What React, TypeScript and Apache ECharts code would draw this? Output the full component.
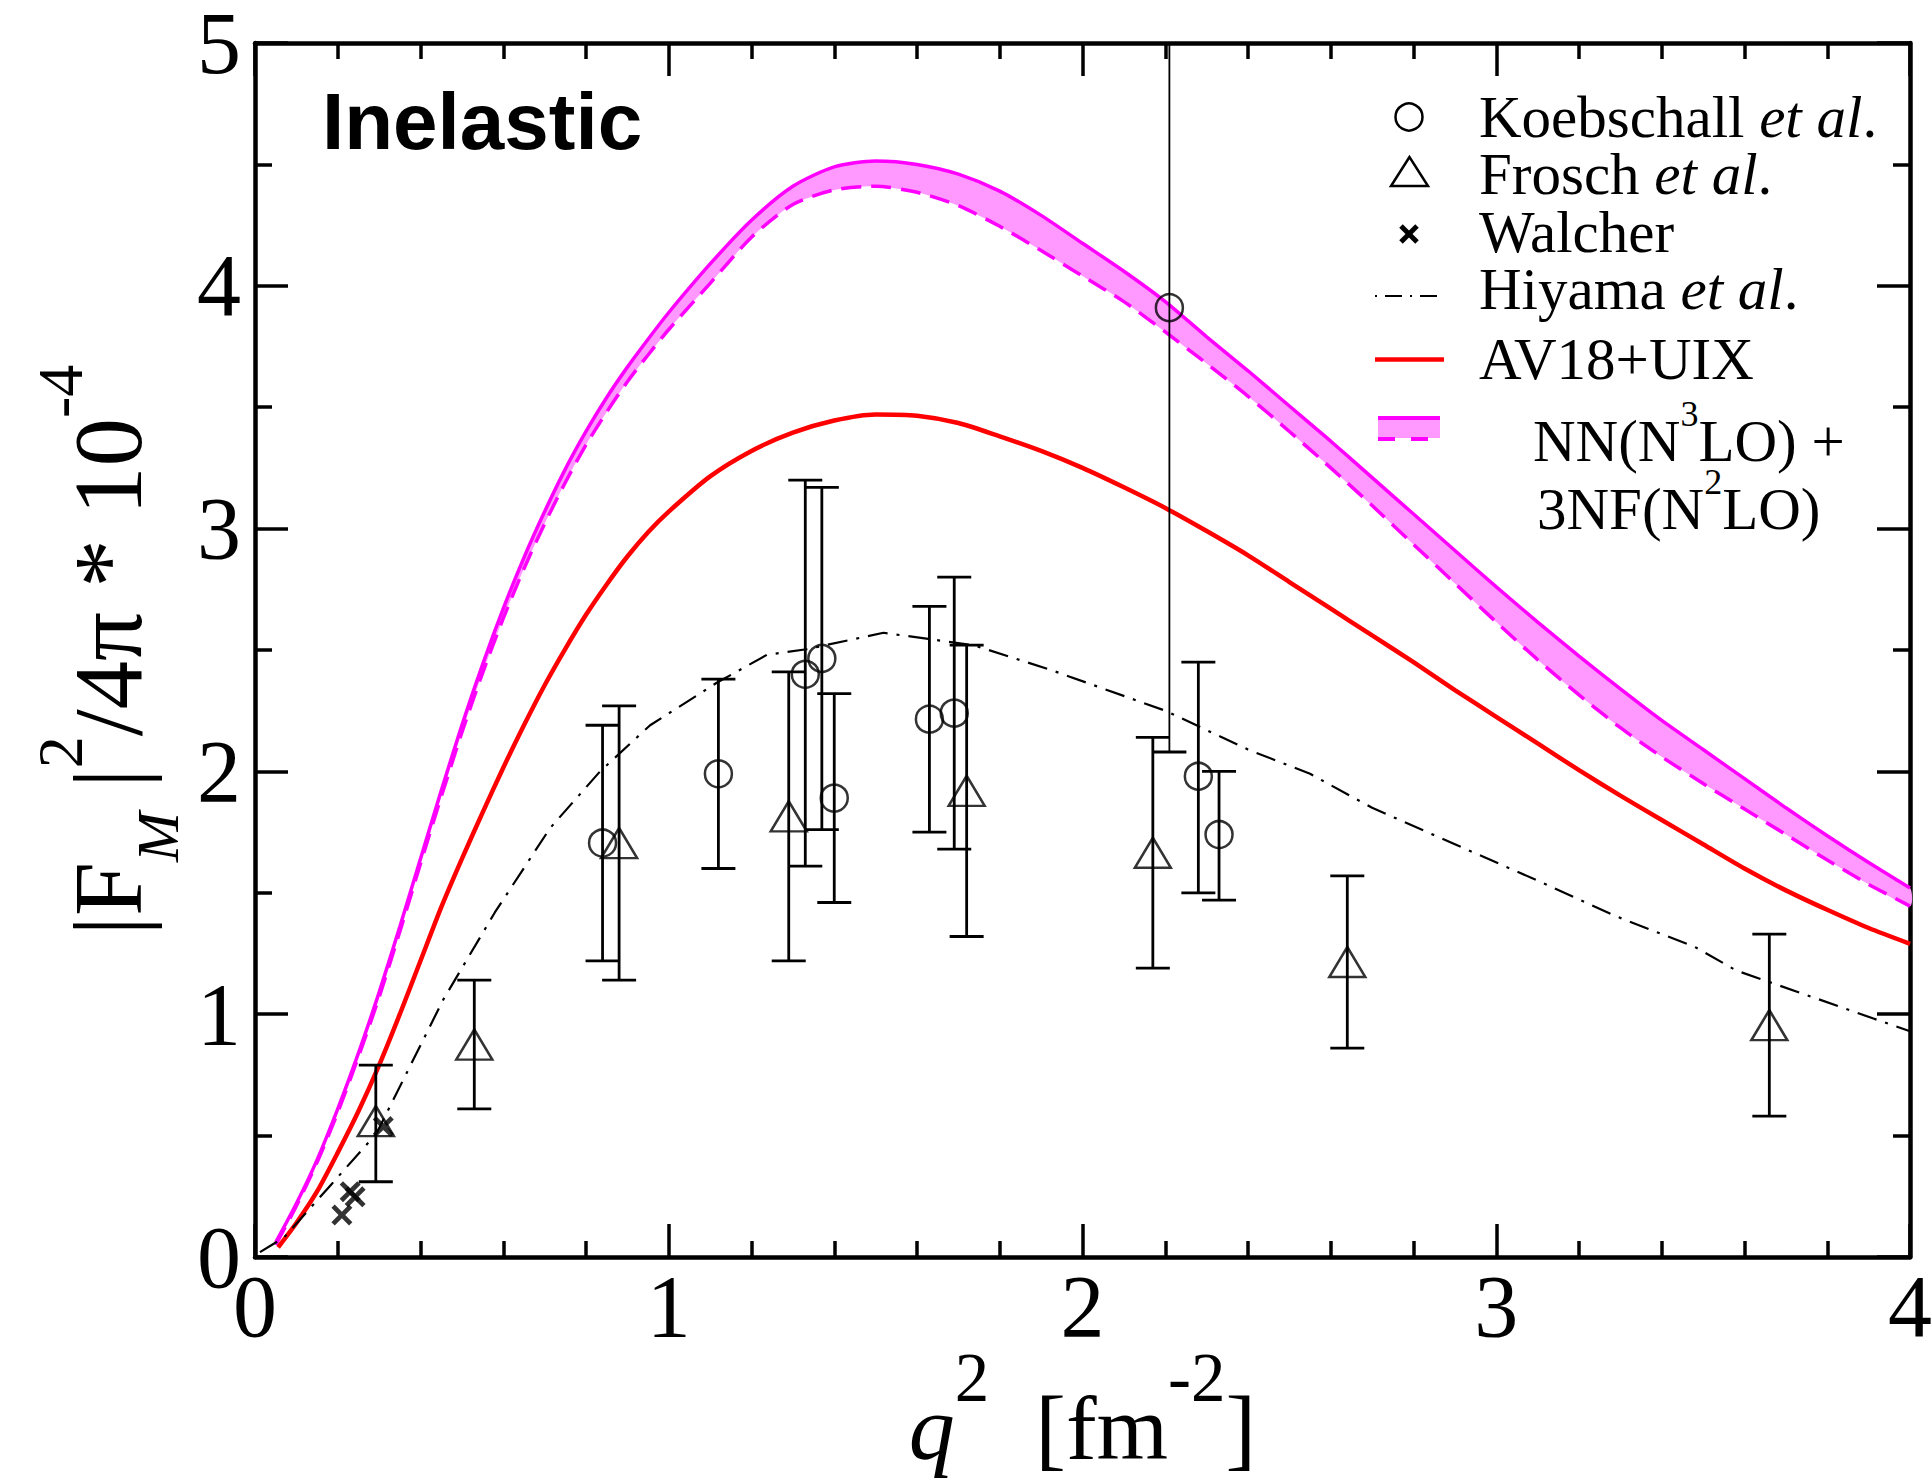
import React, { useEffect, useRef } from 'react';
import * as echarts from 'echarts';

// ---------- data ----------
const qBand = [0.05, 0.1, 0.15, 0.2, 0.25, 0.3, 0.35, 0.4, 0.45, 0.5, 0.55, 0.6, 0.65, 0.7, 0.75, 0.8, 0.85, 0.9, 0.95, 1.0, 1.1, 1.2, 1.3, 1.4, 1.5, 1.6, 1.7, 1.8, 1.9, 2.0, 2.1, 2.2, 2.3, 2.4, 2.5, 2.6, 2.7, 2.8, 2.9, 3.0, 3.1, 3.2, 3.3, 3.4, 3.5, 3.6, 3.7, 3.8, 3.9, 4.0];
const nnUpper = [0.06, 0.22, 0.4, 0.61, 0.84, 1.09, 1.36, 1.64, 1.92, 2.19, 2.44, 2.67, 2.88, 3.07, 3.245, 3.4, 3.54, 3.665, 3.78, 3.89, 4.09, 4.27, 4.41, 4.49, 4.514, 4.5, 4.46, 4.39, 4.29, 4.175, 4.06, 3.935, 3.79, 3.65, 3.505, 3.36, 3.21, 3.06, 2.91, 2.76, 2.615, 2.475, 2.34, 2.21, 2.09, 1.97, 1.85, 1.735, 1.625, 1.52];
const nnLower = [0.05, 0.21, 0.39, 0.595, 0.825, 1.07, 1.34, 1.62, 1.895, 2.16, 2.405, 2.63, 2.835, 3.02, 3.19, 3.345, 3.48, 3.605, 3.715, 3.82, 4.01, 4.2, 4.335, 4.395, 4.41, 4.385, 4.33, 4.245, 4.145, 4.04, 3.935, 3.81, 3.68, 3.545, 3.4, 3.25, 3.095, 2.935, 2.775, 2.615, 2.46, 2.315, 2.18, 2.06, 1.95, 1.845, 1.74, 1.635, 1.535, 1.445];

const qAV18 = [0.056, 0.1, 0.15, 0.2, 0.25, 0.3, 0.35, 0.4, 0.45, 0.5, 0.55, 0.6, 0.65, 0.7, 0.75, 0.8, 0.85, 0.9, 0.95, 1.0, 1.1, 1.2, 1.3, 1.4, 1.5, 1.6, 1.7, 1.8, 1.9, 2.0, 2.1, 2.2, 2.3, 2.4, 2.5, 2.6, 2.7, 2.8, 2.9, 3.0, 3.1, 3.2, 3.3, 3.4, 3.5, 3.6, 3.7, 3.8, 3.9, 4.0];
const av18 = [0.04, 0.14, 0.27, 0.43, 0.6, 0.79, 1.0, 1.22, 1.44, 1.64, 1.83, 2.015, 2.19, 2.355, 2.505, 2.645, 2.77, 2.885, 2.985, 3.07, 3.215, 3.32, 3.395, 3.445, 3.47, 3.465, 3.435, 3.38, 3.32, 3.25, 3.17, 3.085, 2.99, 2.89, 2.78, 2.67, 2.56, 2.45, 2.335, 2.225, 2.115, 2.005, 1.9, 1.8, 1.7, 1.6, 1.51, 1.43, 1.355, 1.29];

const qHiyama = [0.012, 0.07, 0.185, 0.294, 0.455, 0.58, 0.713, 0.834, 0.955, 1.116, 1.237, 1.333, 1.519, 1.736, 1.92, 2.2, 2.4, 2.55, 2.7, 2.9, 3.1, 3.29, 3.48, 3.58, 3.77, 3.91, 4.0];
const hiyama = [0.02, 0.08, 0.3, 0.51, 1.06, 1.42, 1.766, 2.0, 2.19, 2.365, 2.48, 2.503, 2.571, 2.52, 2.42, 2.25, 2.09, 1.99, 1.85, 1.7, 1.55, 1.403, 1.277, 1.18, 1.067, 0.983, 0.93];

const koebQ = [0.84, 1.12, 1.33, 1.37, 1.4, 1.63, 1.69, 2.21, 2.28, 2.33];
const koebF = [1.705, 1.99, 2.4, 2.465, 1.89, 2.215, 2.24, 3.91, 1.98, 1.74];
const koebLo = [1.22, 1.6, 1.61, 1.76, 1.46, 1.75, 1.68, 2.08, 1.5, 1.47];
const koebHi = [2.19, 2.38, 3.2, 3.17, 2.32, 2.68, 2.8, 5.74, 2.45, 2.0];

const froschQ = [0.292, 0.53, 0.88, 1.29, 1.72, 2.17, 2.64, 3.66];
const froschF = [0.56, 0.875, 1.705, 1.815, 1.92, 1.665, 1.215, 0.955];
const froschLo = [0.31, 0.61, 1.14, 1.22, 1.32, 1.19, 0.86, 0.58];
const froschHi = [0.79, 1.14, 2.27, 2.41, 2.52, 2.14, 1.57, 1.33];

const walcherQ = [0.21, 0.23, 0.242, 0.31];
const walcherF = [0.173, 0.269, 0.248, 0.537];

const xTicks = { min: 0, max: 4, interval: 1 };
const yTicks = { min: 0, max: 5, interval: 1 };

// ---------- styles ----------
const SERIF = 'Liberation Serif';
const MAGENTA = '#FF00FF';
const PINK = '#FF99FF';
const RED = '#FF0000';
const CROSS = 'path://M0,1.6L1.6,0L5,3.4L8.4,0L10,1.6L6.6,5L10,8.4L8.4,10L5,6.6L1.6,10L0,8.4L3.4,5Z';

function errorBarRender(params: any, api: any) {
  const x = api.value(0);
  const lo = api.coord([x, api.value(1)]);
  const hi = api.coord([x, api.value(2)]);
  const cs = params.coordSys;
  const clipped = hi[1] < cs.y;
  const topY = clipped ? cs.y : hi[1];
  const half = 17;
  const capStyle = { stroke: '#000', lineWidth: 2.8 };
  const children: any[] = [
    { type: 'line', shape: { x1: lo[0], y1: lo[1], x2: lo[0], y2: topY }, style: { stroke: '#000', lineWidth: clipped ? 1.8 : 2.8 } },
    { type: 'line', shape: { x1: lo[0] - half, y1: lo[1], x2: lo[0] + half, y2: lo[1] }, style: capStyle },
  ];
  if (!clipped) {
    children.push({ type: 'line', shape: { x1: hi[0] - half, y1: hi[1], x2: hi[0] + half, y2: hi[1] }, style: capStyle });
  }
  return { type: 'group', children };
}

function bandRender(params: any, api: any) {
  const pts: number[][] = [];
  for (let i = 0; i < qBand.length; i++) pts.push(api.coord([qBand[i], nnUpper[i]]));
  for (let i = qBand.length - 1; i >= 0; i--) pts.push(api.coord([qBand[i], nnLower[i]]));
  return { type: 'polygon', shape: { points: pts, smooth: 0.25 }, style: { fill: PINK } };
}

function makeXAxis(position: 'bottom' | 'top', main: boolean): any {
  return {
    type: 'value',
    position,
    ...xTicks,
    axisLine: { show: true, onZero: false, lineStyle: { color: '#000', width: 4.5 } },
    axisTick: { show: true, inside: true, length: 33, lineStyle: { color: '#000', width: 3.5 } },
    minorTick: { show: true, splitNumber: 5, length: 16, lineStyle: { color: '#000', width: 3.5 } },
    splitLine: { show: false },
    minorSplitLine: { show: false },
    axisLabel: main
      ? { show: true, margin: 5, fontFamily: SERIF, fontSize: 88, lineHeight: 88, color: '#000' }
      : { show: false },
    ...(main
      ? {
          name: '{i|q}{sup|2}{r|  [fm}{sup|-2}{r|]}',
          nameLocation: 'middle',
          nameGap: 86,
          nameMoveOverlap: false,
          nameTextStyle: {
            fontFamily: SERIF,
            fontSize: 92,
            color: '#000',
            rich: {
              i: { fontFamily: SERIF, fontStyle: 'italic', fontSize: 92, lineHeight: 170, color: '#000' },
              r: { fontFamily: SERIF, fontSize: 92, lineHeight: 170, color: '#000' },
              sup: { fontFamily: SERIF, fontSize: 69, lineHeight: 60, verticalAlign: 'top', color: '#000' },
            },
          },
        }
      : {}),
  };
}

function makeYAxis(position: 'left' | 'right', main: boolean): any {
  return {
    type: 'value',
    position,
    ...yTicks,
    axisLine: { show: true, onZero: false, lineStyle: { color: '#000', width: 4.5 } },
    axisTick: { show: true, inside: true, length: 33, lineStyle: { color: '#000', width: 3.5 } },
    minorTick: { show: true, splitNumber: 2, length: 17, lineStyle: { color: '#000', width: 3.5 } },
    splitLine: { show: false },
    minorSplitLine: { show: false },
    axisLabel: main
      ? { show: true, margin: 14, fontFamily: SERIF, fontSize: 88, lineHeight: 62, color: '#000' }
      : { show: false },
    ...(main
      ? {
          name: '{r||F}{sub|M}{r| |}{sup|2}{r|/4π * 10}{sup|-4}',
          nameLocation: 'middle',
          nameGap: 67,
          nameMoveOverlap: false,
          nameTextStyle: {
            fontFamily: SERIF,
            fontSize: 97,
            color: '#000',
            rich: {
              r: { fontFamily: SERIF, fontSize: 97, lineHeight: 160, color: '#000' },
              sub: { fontFamily: SERIF, fontStyle: 'italic', fontSize: 60, lineHeight: 60, verticalAlign: 'bottom', color: '#000' },
              sup: { fontFamily: SERIF, fontSize: 64, lineHeight: 20, verticalAlign: 'top', color: '#000' },
            },
          },
        }
      : {}),
  };
}

const legendText = (x: number, y: number, text: string, size = 59) => ({
  type: 'text',
  x,
  y,
  silent: true,
  style: {
    text,
    align: 'left',
    verticalAlign: 'middle',
    fontFamily: SERIF,
    fontSize: size,
    lineHeight: 50,
    fill: '#000',
    rich: {
      r: { fontFamily: SERIF, fontSize: size, lineHeight: 50, fill: '#000' },
      i: { fontFamily: SERIF, fontStyle: 'italic', fontSize: size, lineHeight: 50, fill: '#000' },
      m: { fontFamily: SERIF, fontSize: size, lineHeight: 66, fill: '#000' },
      s: { fontFamily: SERIF, fontSize: 36, height: 12, lineHeight: 12, verticalAlign: 'top', fill: '#000' },
    },
  },
});

const graphic: any[] = [
  {
    type: 'text',
    x: 322,
    y: 121,
    silent: true,
    style: {
      text: 'Inelastic',
      fontFamily: 'Liberation Sans',
      fontWeight: 'bold',
      fontSize: 80,
      lineHeight: 64,
      fill: '#000',
      align: 'left',
      verticalAlign: 'middle',
    },
  },
  // legend symbols
  { type: 'circle', shape: { cx: 1409, cy: 117, r: 13.5 }, style: { fill: 'none', stroke: '#000', lineWidth: 2.5 }, silent: true },
  { type: 'polygon', shape: { points: [[1409.5, 157], [1391, 186], [1428, 186]] }, style: { fill: 'none', stroke: '#000', lineWidth: 2.5 }, silent: true },
  { type: 'line', shape: { x1: 1401, y1: 226, x2: 1417, y2: 242 }, style: { stroke: '#000', lineWidth: 5 }, silent: true },
  { type: 'line', shape: { x1: 1417, y1: 226, x2: 1401, y2: 242 }, style: { stroke: '#000', lineWidth: 5 }, silent: true },
  { type: 'line', shape: { x1: 1375, y1: 296, x2: 1441, y2: 296 }, style: { stroke: '#000', lineWidth: 2.2, lineDash: [2, 8, 17, 8] }, silent: true },
  { type: 'line', shape: { x1: 1375, y1: 359.5, x2: 1444, y2: 359.5 }, style: { stroke: RED, lineWidth: 4.5 }, silent: true },
  { type: 'rect', shape: { x: 1378, y: 419, width: 62, height: 19 }, style: { fill: PINK }, silent: true },
  { type: 'line', shape: { x1: 1378, y1: 418, x2: 1440, y2: 418 }, style: { stroke: MAGENTA, lineWidth: 4 }, silent: true },
  { type: 'line', shape: { x1: 1378, y1: 439, x2: 1440, y2: 439 }, style: { stroke: MAGENTA, lineWidth: 4, lineDash: [17, 16] }, silent: true },
  // legend texts
  legendText(1479, 117, '{r|Koebschall }{i|et al}{r|.}'),
  legendText(1479, 174, '{r|Frosch }{i|et al}{r|.}'),
  legendText(1479, 232, '{r|Walcher}'),
  legendText(1479, 289, '{r|Hiyama }{i|et al}{r|.}'),
  legendText(1479, 358.5, '{r|AV18+UIX}'),
  legendText(1533, 441, '{m|NN(N}{s|3}{m|LO) +}'),
  legendText(1537, 509, '{m|3NF(N}{s|2}{m|LO)}'),
];

const lineBase = { showSymbol: false, symbol: 'none', silent: true, z: 2 };

const option: any = {
  animation: false,
  backgroundColor: '#ffffff',
  grid: { left: 255, top: 43, right: 21, bottom: 223, containLabel: false, outerBoundsMode: 'none' },
  xAxis: [makeXAxis('bottom', true), makeXAxis('top', false)],
  yAxis: [makeYAxis('left', true), makeYAxis('right', false)],
  graphic,
  series: [
    {
      name: 'band',
      type: 'custom',
      renderItem: bandRender,
      data: [[qBand[0], nnLower[0]]],
      silent: true,
      z: 1,
    },
    {
      ...lineBase,
      name: 'NN(N3LO)+3NF(N2LO) upper',
      type: 'line',
      smooth: 0.25,
      data: qBand.map((q, i) => [q, nnUpper[i]]),
      lineStyle: { color: MAGENTA, width: 3.5 },
    },
    {
      ...lineBase,
      name: 'NN(N3LO)+3NF(N2LO) lower',
      type: 'line',
      smooth: 0.25,
      data: qBand.map((q, i) => [q, nnLower[i]]),
      lineStyle: { color: MAGENTA, width: 3.5, type: [20, 10] },
    },
    {
      ...lineBase,
      name: 'AV18+UIX',
      type: 'line',
      smooth: 0.25,
      data: qAV18.map((q, i) => [q, av18[i]]),
      lineStyle: { color: RED, width: 4.5 },
    },
    {
      ...lineBase,
      name: 'Hiyama et al.',
      type: 'line',
      data: qHiyama.map((q, i) => [q, hiyama[i]]),
      lineStyle: { color: '#000', width: 2.2, type: [20, 9, 3, 9] },
    },
    {
      name: 'Koebschall error',
      type: 'custom',
      renderItem: errorBarRender,
      encode: { x: 0, y: [1, 2] },
      data: koebQ.map((q, i) => [q, koebLo[i], koebHi[i]]),
      silent: true,
      z: 3,
    },
    {
      name: 'Frosch error',
      type: 'custom',
      renderItem: errorBarRender,
      encode: { x: 0, y: [1, 2] },
      data: froschQ.map((q, i) => [q, froschLo[i], froschHi[i]]),
      silent: true,
      z: 3,
    },
    {
      name: 'Koebschall et al.',
      type: 'scatter',
      data: koebQ.map((q, i) => [q, koebF[i]]),
      symbol: 'circle',
      symbolSize: 27,
      itemStyle: { color: 'rgba(0,0,0,0)', borderColor: '#000', borderWidth: 2.5 },
      silent: true,
      z: 4,
    },
    {
      name: 'Frosch et al.',
      type: 'scatter',
      data: froschQ.map((q, i) => [q, froschF[i]]),
      symbol: 'triangle',
      symbolSize: [36, 30],
      itemStyle: { color: 'rgba(0,0,0,0)', borderColor: '#000', borderWidth: 2.5 },
      silent: true,
      z: 4,
    },
    {
      name: 'Walcher',
      type: 'scatter',
      data: walcherQ.map((q, i) => [q, walcherF[i]]),
      symbol: CROSS,
      symbolSize: 21,
      itemStyle: { color: '#000' },
      silent: true,
      z: 4,
    },
  ],
};

export default function App() {
  const ref = useRef<HTMLDivElement>(null);
  useEffect(() => {
    if (!ref.current) return;
    const chart = echarts.init(ref.current, null, { renderer: 'svg' });
    chart.setOption(option);
    return () => chart.dispose();
  }, []);
  return (
    <div
      ref={ref}
      style={{ position: 'fixed', left: 0, top: 0, width: 1931, height: 1480, background: '#fff' }}
    />
  );
}
